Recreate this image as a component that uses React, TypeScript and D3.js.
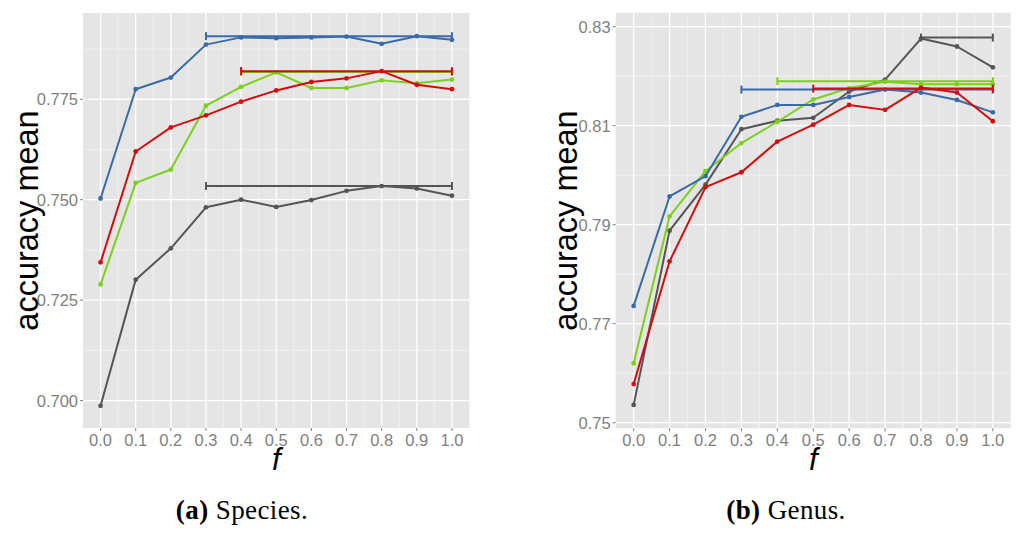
import * as d3 from 'd3'

const fValues = [0, 0.1, 0.2, 0.3, 0.4, 0.5, 0.6, 0.7, 0.8, 0.9, 1.0]
const xTicks = fValues

// Species (a)
const speciesBlue = [0.7503, 0.7775, 0.7804, 0.7886, 0.7904, 0.7902, 0.7904, 0.7906, 0.7888, 0.7907, 0.7898]
const speciesRed = [0.7344, 0.7620, 0.7680, 0.7710, 0.7744, 0.7772, 0.7793, 0.7802, 0.7820, 0.7786, 0.7775]
const speciesGreen = [0.7289, 0.7542, 0.7575, 0.7734, 0.7781, 0.7817, 0.7778, 0.7778, 0.7797, 0.7790, 0.7799]
const speciesGray = [0.6987, 0.7301, 0.7379, 0.7481, 0.7500, 0.7482, 0.7499, 0.7522, 0.7534, 0.7528, 0.7510]
// error bars: [from f, to f, level]
const speciesBlueBar = [0.3, 1.0, 0.7907]
const speciesRedBar = [0.4, 1.0, 0.7820]
const speciesGreenBar = [0.4, 1.0, 0.7818]
const speciesGrayBar = [0.3, 1.0, 0.7534]
const speciesYTicks = [0.700, 0.725, 0.750, 0.775]
const speciesYMinor = [0.7125, 0.7375, 0.7625, 0.7875]

// Genus (b)
const genusBlue = [0.7736, 0.7957, 0.7998, 0.8118, 0.8142, 0.8142, 0.8158, 0.8173, 0.8167, 0.8152, 0.8127]
const genusRed = [0.7578, 0.7826, 0.7976, 0.8006, 0.8068, 0.8102, 0.8142, 0.8132, 0.8177, 0.8167, 0.8109]
const genusGreen = [0.7620, 0.7917, 0.8008, 0.8065, 0.8108, 0.8153, 0.8176, 0.8189, 0.8184, 0.8184, 0.8184]
const genusGray = [0.7536, 0.7888, 0.7981, 0.8093, 0.8110, 0.8116, 0.8169, 0.8193, 0.8276, 0.8260, 0.8218]
const genusBlueBar = [0.3, 1.0, 0.8173]
const genusRedBar = [0.5, 1.0, 0.8175]
const genusGreenBar = [0.4, 1.0, 0.8190]
const genusGrayBar = [0.8, 1.0, 0.8278]
const genusYTicks = [0.75, 0.77, 0.79, 0.81, 0.83]
const genusYMinor = [0.76, 0.78, 0.80, 0.82]

const colors = { gray: '#555555', green: '#7ccf1c', blue: '#3a6aa8', red: '#d40b0b' }

type Series = { values: number[]; bar: number[]; color: string }

const speciesSeries: Series[] = [
  { values: speciesGray, bar: speciesGrayBar, color: colors.gray },
  { values: speciesGreen, bar: speciesGreenBar, color: colors.green },
  { values: speciesRed, bar: speciesRedBar, color: colors.red },
  { values: speciesBlue, bar: speciesBlueBar, color: colors.blue },
]
const genusSeries: Series[] = [
  { values: genusGray, bar: genusGrayBar, color: colors.gray },
  { values: genusGreen, bar: genusGreenBar, color: colors.green },
  { values: genusBlue, bar: genusBlueBar, color: colors.blue },
  { values: genusRed, bar: genusRedBar, color: colors.red },
]

type PanelProps = {
  left: number; right: number; top: number; bottom: number
  yDomain: [number, number]
  yTicks: number[]; yMinor: number[]; yFmt: string
  series: Series[]
  labelX: number
  capLetter: string; capWord: string; capX: number
}

const sans = 'Liberation Sans, Arial, sans-serif'

function Panel(p: PanelProps) {
  const x = d3.scaleLinear().domain([-0.05, 1.05]).range([p.left, p.right])
  const y = d3.scaleLinear().domain(p.yDomain).range([p.bottom, p.top])
  const fmt = d3.format(p.yFmt)
  const xMinor = d3.range(0.05, 1.0, 0.1)
  const line = d3.line<number>().x((_, i) => x(fValues[i])).y(d => y(d))
  const tickColor = '#7f7f7f'
  const midY = (p.top + p.bottom) / 2
  return (
    <g>
      <rect x={p.left} y={p.top} width={p.right - p.left} height={p.bottom - p.top} fill="#e5e5e5" />
      {p.yMinor.map(v => (
        <line key={'ym' + v} x1={p.left} x2={p.right} y1={y(v)} y2={y(v)} stroke="#f2f2f2" strokeWidth={0.8} />
      ))}
      {xMinor.map(v => (
        <line key={'xm' + v} x1={x(v)} x2={x(v)} y1={p.top} y2={p.bottom} stroke="#f2f2f2" strokeWidth={0.8} />
      ))}
      {p.yTicks.map(v => (
        <line key={'yg' + v} x1={p.left} x2={p.right} y1={y(v)} y2={y(v)} stroke="#ffffff" strokeWidth={1.3} />
      ))}
      {xTicks.map(v => (
        <line key={'xg' + v} x1={x(v)} x2={x(v)} y1={p.top} y2={p.bottom} stroke="#ffffff" strokeWidth={1.3} />
      ))}
      {p.series.map((s, k) => (
        <g key={'s' + k}>
          <line x1={x(s.bar[0])} x2={x(s.bar[1])} y1={y(s.bar[2])} y2={y(s.bar[2])} stroke={s.color} strokeWidth={2} />
          <line x1={x(s.bar[0])} x2={x(s.bar[0])} y1={y(s.bar[2]) - 4} y2={y(s.bar[2]) + 4} stroke={s.color} strokeWidth={2} />
          <line x1={x(s.bar[1])} x2={x(s.bar[1])} y1={y(s.bar[2]) - 4} y2={y(s.bar[2]) + 4} stroke={s.color} strokeWidth={2} />
          <path d={line(s.values) ?? ''} fill="none" stroke={s.color} strokeWidth={2} strokeLinejoin="round" />
          {s.values.map((v, i) => (
            <circle key={i} cx={x(fValues[i])} cy={y(v)} r={2.4} fill={s.color} />
          ))}
        </g>
      ))}
      {p.yTicks.map(v => (
        <g key={'yt' + v}>
          <line x1={p.left - 3} x2={p.left} y1={y(v)} y2={y(v)} stroke={tickColor} strokeWidth={1} />
          <text x={p.left - 5} y={y(v)} dy="0.36em" textAnchor="end" fontSize={16.5} fill={tickColor}
            fontFamily={sans}>{fmt(v)}</text>
        </g>
      ))}
      {xTicks.map(v => (
        <g key={'xt' + v}>
          <line x1={x(v)} x2={x(v)} y1={p.bottom} y2={p.bottom + 3} stroke={tickColor} strokeWidth={1} />
          <text x={x(v)} y={p.bottom + 17.5} textAnchor="middle" fontSize={16.5} fill={tickColor}
            fontFamily={sans}>{d3.format('.1f')(v)}</text>
        </g>
      ))}
      <text x={(p.left + p.right) / 2} y={p.bottom + 42} textAnchor="middle" fontSize={31} fontStyle="italic"
        fill="#000" fontFamily={sans}>f</text>
      <text transform={`translate(${p.labelX},${midY}) rotate(-90)`} textAnchor="middle" dy="0.35em" fontSize={32.5}
        fill="#000" fontFamily={sans}>accuracy mean</text>
      <text x={p.capX} y={519} textAnchor="middle" fontSize={27} letterSpacing={0.4} fill="#000"
        fontFamily="Liberation Serif, DejaVu Serif, serif">
        <tspan fontWeight="bold">({p.capLetter})</tspan>
        <tspan> {p.capWord}</tspan>
      </text>
    </g>
  )
}

export default function App() {
  return (
    <svg width={1024} height={535} viewBox="0 0 1024 535"
      style={{ position: 'absolute', left: 0, top: 0, background: '#fff' }}>
      <Panel left={83} right={469.5} top={13} bottom={428} yDomain={[0.69317, 0.79647]}
        yTicks={speciesYTicks} yMinor={speciesYMinor} yFmt=".3f" series={speciesSeries}
        labelX={27} capLetter="a" capWord="Species." capX={242} />
      <Panel left={615.7} right={1010.8} top={12.7} bottom={428.3} yDomain={[0.74887, 0.83283]}
        yTicks={genusYTicks} yMinor={genusYMinor} yFmt=".2f" series={genusSeries}
        labelX={566} capLetter="b" capWord="Genus." capX={786} />
    </svg>
  )
}
